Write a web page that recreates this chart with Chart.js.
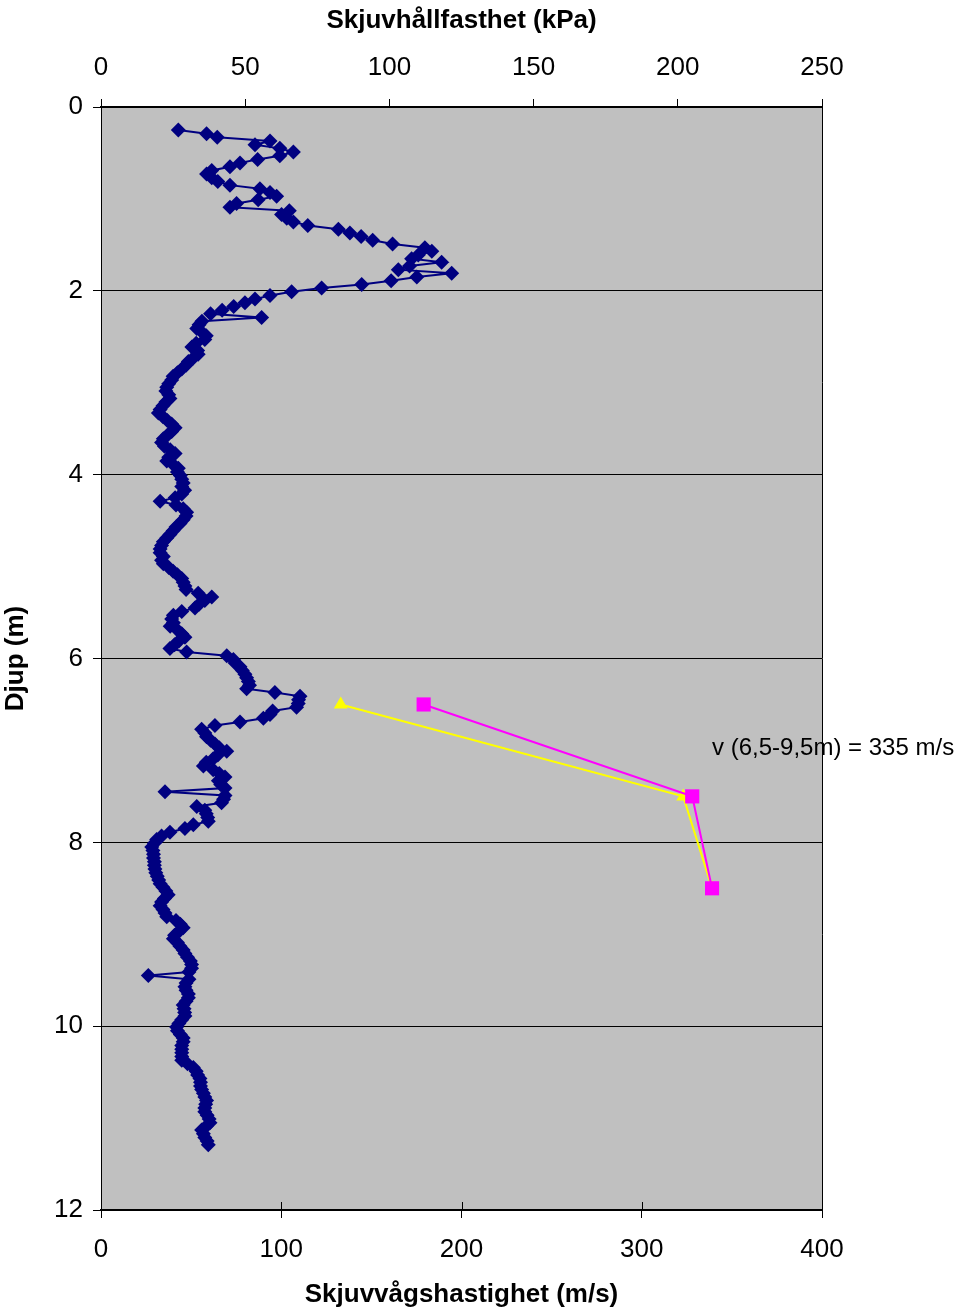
<!DOCTYPE html>
<html>
<head>
<meta charset="utf-8">
<title>Skjuvhållfasthet och skjuvvågshastighet</title>
<script src="https://cdn.jsdelivr.net/npm/chart.js@4.4.1/dist/chart.umd.min.js"></script>
<style>
  html, body { margin: 0; padding: 0; background: #fff; }
  canvas { display: block; }
</style>
</head>
<body>
<canvas id="profile" width="964" height="1314"></canvas>
<script>
// depth (m) of each vane / CPT reading
const strengthDepth = [
  0.25, 0.29, 0.33, 0.37, 0.41, 0.45, 0.49, 0.53, 0.57, 0.61,
  0.65, 0.69, 0.73, 0.77, 0.81, 0.85, 0.89, 0.93, 0.97, 1.01,
  1.05, 1.09, 1.13, 1.17, 1.21, 1.25, 1.29, 1.33, 1.37, 1.41,
  1.45, 1.49, 1.53, 1.57, 1.61, 1.65, 1.69, 1.73, 1.77, 1.81,
  1.85, 1.89, 1.93, 1.97, 2.01, 2.05, 2.09, 2.13, 2.17, 2.21,
  2.25, 2.29, 2.33, 2.37, 2.41, 2.45, 2.49, 2.53, 2.57, 2.61,
  2.65, 2.69, 2.73, 2.77, 2.81, 2.85, 2.89, 2.93, 2.97, 3.01,
  3.05, 3.09, 3.13, 3.17, 3.21, 3.25, 3.29, 3.33, 3.37, 3.41,
  3.45, 3.49, 3.53, 3.57, 3.61, 3.65, 3.69, 3.73, 3.77, 3.81,
  3.85, 3.89, 3.93, 3.97, 4.01, 4.05, 4.09, 4.13, 4.17, 4.21,
  4.25, 4.29, 4.33, 4.37, 4.41, 4.45, 4.49, 4.53, 4.57, 4.61,
  4.65, 4.69, 4.73, 4.77, 4.81, 4.85, 4.89, 4.93, 4.97, 5.01,
  5.05, 5.09, 5.13, 5.17, 5.21, 5.25, 5.29, 5.33, 5.37, 5.41,
  5.45, 5.49, 5.53, 5.57, 5.61, 5.65, 5.69, 5.73, 5.77, 5.81,
  5.85, 5.89, 5.93, 5.97, 6.01, 6.05, 6.09, 6.13, 6.17, 6.21,
  6.25, 6.29, 6.33, 6.37, 6.41, 6.45, 6.49, 6.53, 6.57, 6.61,
  6.65, 6.69, 6.73, 6.77, 6.81, 6.85, 6.89, 6.93, 6.97, 7.01,
  7.05, 7.09, 7.13, 7.17, 7.21, 7.25, 7.29, 7.33, 7.37, 7.41,
  7.45, 7.49, 7.53, 7.57, 7.61, 7.65, 7.69, 7.73, 7.77, 7.81,
  7.85, 7.89, 7.93, 7.97, 8.01, 8.05, 8.09, 8.13, 8.17, 8.21,
  8.25, 8.29, 8.33, 8.37, 8.41, 8.45, 8.49, 8.53, 8.57, 8.61,
  8.65, 8.69, 8.73, 8.77, 8.81, 8.85, 8.89, 8.93, 8.97, 9.01,
  9.05, 9.09, 9.13, 9.17, 9.21, 9.25, 9.29, 9.33, 9.37, 9.41,
  9.45, 9.49, 9.53, 9.57, 9.61, 9.65, 9.69, 9.73, 9.77, 9.81,
  9.85, 9.89, 9.93, 9.97, 10.01, 10.05, 10.09, 10.13, 10.17, 10.21,
  10.25, 10.29, 10.33, 10.37, 10.41, 10.45, 10.49, 10.53, 10.57, 10.61,
  10.65, 10.69, 10.73, 10.77, 10.81, 10.85, 10.89, 10.93, 10.97, 11.01,
  11.05, 11.09, 11.13, 11.17, 11.21, 11.25, 11.29
];

// shear strength (kPa), same order as strengthDepth
const strengthKpa = [
  26.8, 36.6, 40.3, 58.6, 53.4, 62.0, 66.7, 62.0, 54.3, 48.2,
  44.7, 38.4, 36.6, 38.4, 40.5, 44.7, 55.1, 58.6, 60.9, 54.5,
  47.0, 44.7, 65.3, 62.6, 64.4, 66.7, 71.7, 82.3, 86.3, 90.2,
  94.2, 101.1, 112.3, 114.7, 110.0, 107.7, 118.1, 107.0, 103.1, 121.6,
  109.5, 100.6, 90.4, 76.5, 66.1, 58.6, 53.4, 49.9, 46.0, 42.0,
  38.0, 55.7, 35.0, 34.0, 33.2, 35.0, 36.5, 36.0, 33.0, 31.5,
  33.5, 33.7, 32.0, 30.3, 29.5, 28.0, 26.5, 25.0, 24.5, 23.5,
  22.8, 22.5, 23.5, 23.9, 22.5, 21.5, 20.5, 19.9, 21.5, 23.0,
  24.5, 25.7, 24.5, 23.0, 21.6, 21.0, 22.0, 24.0, 25.7, 23.5,
  22.8, 25.0, 26.8, 26.5, 27.5, 28.0, 28.5, 28.0, 29.0, 28.0,
  25.7, 20.5, 26.0, 28.5, 29.7, 29.5, 28.5, 27.4, 26.0, 25.0,
  23.9, 22.8, 21.6, 21.0, 20.5, 20.5, 21.6, 21.0, 21.6, 23.5,
  25.0, 26.5, 28.0, 28.5, 29.1, 29.5, 33.7, 38.4, 36.0, 34.0,
  32.6, 28.0, 25.1, 24.5, 25.1, 24.0, 26.5, 28.0, 29.1, 27.0,
  25.5, 23.9, 29.7, 43.6, 45.9, 46.5, 48.2, 49.0, 49.9, 50.5,
  51.1, 51.5, 50.5, 60.3, 69.0, 68.5, 68.4, 67.8, 59.5, 58.6,
  56.3, 48.2, 39.5, 34.9, 36.0, 36.6, 38.0, 39.5, 41.0, 43.6,
  40.5, 38.9, 36.5, 35.5, 38.9, 41.0, 43.0, 40.7, 41.5, 43.0,
  22.2, 43.0, 42.5, 41.8, 33.2, 36.0, 36.5, 37.0, 37.2, 32.0,
  29.1, 23.9, 21.0, 19.3, 18.5, 17.6, 18.0, 18.2, 18.2, 18.5,
  18.5, 18.7, 19.0, 19.5, 20.0, 20.5, 21.5, 22.5, 23.3, 22.0,
  21.0, 20.5, 21.5, 22.2, 22.8, 26.0, 27.5, 28.5, 27.0, 25.5,
  25.1, 26.5, 27.4, 28.5, 29.1, 30.0, 31.0, 31.4, 31.4, 30.5,
  16.4, 30.5, 29.5, 29.1, 29.5, 30.3, 30.3, 29.5, 28.5, 28.8,
  29.0, 29.1, 28.0, 27.0, 26.2, 26.5, 27.5, 28.5, 28.5, 28.0,
  28.0, 28.0, 28.0, 28.0, 30.0, 32.0, 33.0, 33.5, 34.3, 34.5,
  34.5, 34.9, 35.5, 36.0, 36.6, 36.3, 36.0, 36.0, 36.8, 37.5,
  37.8, 36.5, 34.9, 35.5, 36.0, 36.8, 37.2
];

// shear wave velocity (m/s) from the seismic tests
const velocityDepth = [6.5, 7.5, 8.5];
const velocityA = [179, 328, 339];
const velocityB = [133, 323, 339];

const xTopTicks = [0, 50, 100, 150, 200, 250];
const xBottomTicks = [0, 100, 200, 300, 400];
const depthTicks = [0, 2, 4, 6, 8, 10, 12];

const noteText = 'v (6,5-9,5m) = 335 m/s';
const noteAt = { v: 339, depth: 6.98 };

const pairs = (xs, ys) => xs.map((x, i) => ({ x, y: ys[i] }));

Chart.defaults.font.family = "'Liberation Sans', Arial, sans-serif";
Chart.defaults.color = '#000';

// grey plot area, thin frame on the right edge, bottom ticks crossing the axis
const plotBackground = {
  id: 'plotBackground',
  beforeDraw(chart) {
    const { ctx, chartArea: a } = chart;
    ctx.save();
    ctx.fillStyle = '#C0C0C0';
    ctx.fillRect(a.left, a.top, a.right - a.left, a.bottom - a.top);
    ctx.restore();
  },
  afterDraw(chart) {
    const { ctx, chartArea: a, scales } = chart;
    ctx.save();
    ctx.strokeStyle = '#000';
    ctx.lineWidth = 1;
    ctx.beginPath();
    ctx.moveTo(a.right + 0.5, a.top);
    ctx.lineTo(a.right + 0.5, a.bottom);
    xBottomTicks.forEach(v => {
      const px = Math.round(scales.x.getPixelForValue(v)) + 0.5;
      ctx.moveTo(px, a.bottom - 8);
      ctx.lineTo(px, a.bottom);
    });
    ctx.stroke();
    ctx.restore();
  }
};

// velocity note next to the curves
const velocityNote = {
  id: 'velocityNote',
  afterDraw(chart) {
    const { ctx, scales } = chart;
    ctx.save();
    ctx.font = "24px 'Liberation Sans', Arial, sans-serif";
    ctx.fillStyle = '#000';
    ctx.textAlign = 'left';
    ctx.textBaseline = 'middle';
    ctx.fillText(noteText, scales.x.getPixelForValue(noteAt.v), scales.y.getPixelForValue(noteAt.depth));
    ctx.restore();
  }
};

const tickFont = { size: 26 };
const titleFont = { size: 26, weight: 'bold' };

new Chart(document.getElementById('profile'), {
  type: 'scatter',
  data: {
    datasets: [
      {
        label: 'Vs',
        data: pairs(velocityA, velocityDepth),
        xAxisID: 'x',
        showLine: true,
        borderColor: '#FF00FF',
        backgroundColor: '#FF00FF',
        borderWidth: 2,
        pointStyle: 'rect',
        pointRadius: 10,
        pointBorderWidth: 0
      },
      {
        label: 'Vs 2',
        data: pairs(velocityB, velocityDepth),
        xAxisID: 'x',
        showLine: true,
        borderColor: '#FFFF00',
        backgroundColor: '#FFFF00',
        borderWidth: 2,
        pointStyle: 'triangle',
        pointRadius: 8,
        pointBorderWidth: 0
      },
      {
        label: 'Skjuvhållfasthet',
        data: pairs(strengthKpa, strengthDepth),
        xAxisID: 'xTop',
        showLine: true,
        borderColor: '#000080',
        backgroundColor: '#000080',
        borderWidth: 2,
        pointStyle: 'rectRot',
        pointRadius: 7.5,
        pointBorderWidth: 0
      }
    ]
  },
  options: {
    responsive: false,
    animation: false,
    layout: { padding: { top: 0, right: 142, bottom: 0, left: 0 } },
    plugins: {
      legend: { display: false },
      tooltip: { enabled: false }
    },
    scales: {
      y: {
        type: 'linear',
        reverse: true,
        min: 0,
        max: 12,
        afterBuildTicks: s => { s.ticks = depthTicks.map(value => ({ value })); },
        afterFit: s => { s.width = 101; },
        ticks: { font: tickFont, padding: 10 },
        grid: { color: '#000', lineWidth: 1, tickLength: 8 },
        border: { color: '#000', width: 1 },
        title: { display: true, text: 'Djup (m)', font: titleFont, padding: { top: 0, bottom: 0 } }
      },
      xTop: {
        type: 'linear',
        position: 'top',
        min: 0,
        max: 250,
        afterBuildTicks: s => { s.ticks = xTopTicks.map(value => ({ value })); },
        afterFit: s => { s.height = 107; },
        ticks: { font: tickFont, padding: 16 },
        grid: { drawOnChartArea: false, color: '#000', tickLength: 8 },
        border: { color: '#000', width: 2 },
        title: { display: true, text: 'Skjuvhållfasthet (kPa)', font: titleFont, padding: { top: 5, bottom: 0 } }
      },
      x: {
        type: 'linear',
        position: 'bottom',
        min: 0,
        max: 400,
        afterBuildTicks: s => { s.ticks = xBottomTicks.map(value => ({ value })); },
        afterFit: s => { s.height = 104; },
        ticks: { font: tickFont, padding: 16 },
        grid: { drawOnChartArea: false, color: '#000', tickLength: 8 },
        border: { color: '#000', width: 2 },
        title: { display: true, text: 'Skjuvvågshastighet (m/s)', font: titleFont, padding: { top: 0, bottom: 4 } }
      }
    }
  },
  plugins: [plotBackground, velocityNote]
});
</script>
</body>
</html>
